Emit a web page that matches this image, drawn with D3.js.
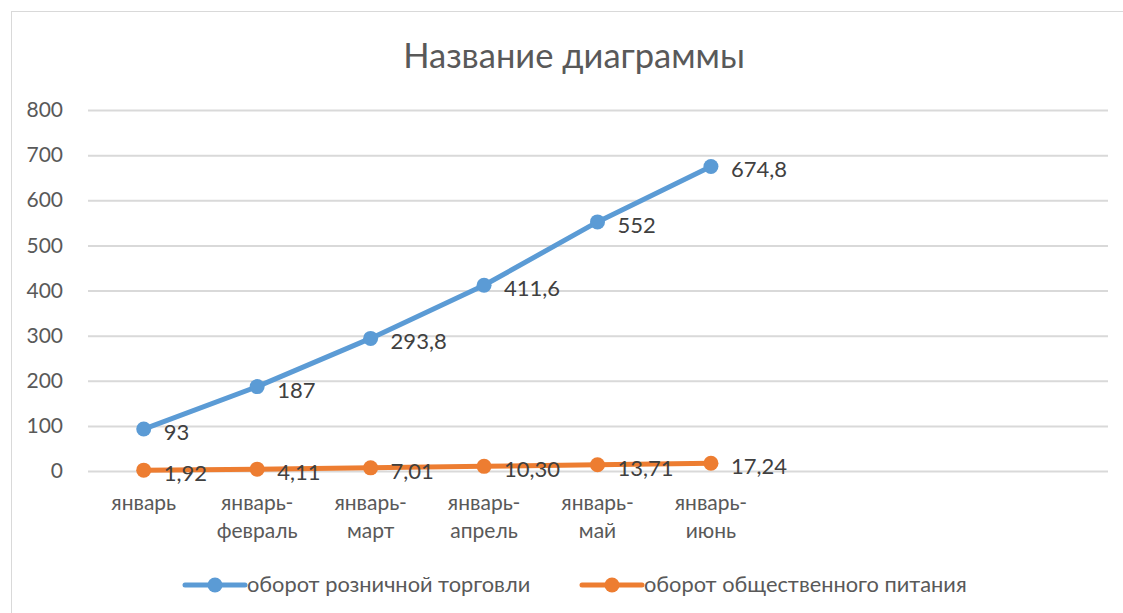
<!DOCTYPE html>
<html>
<head>
<meta charset="utf-8">
<script src="https://cdn.jsdelivr.net/npm/d3@7"></script>
<style>
  body { margin: 0; background: #fff; }
  svg { display: block; font-family: Lato, "Open Sans", sans-serif; }
</style>
</head>
<body>
<svg id="chart" width="1123" height="613"></svg>
<script>
// categories (last three slots are empty in the original)
const categories = ["январь", "январь-февраль", "январь-март", "январь-апрель", "январь-май", "январь-июнь", "", " ", "  "];
const retail = [93, 187, 293.8, 411.6, 552, 674.8];
const catering = [1.92, 4.11, 7.01, 10.30, 13.71, 17.24];
const yTicks = [0, 100, 200, 300, 400, 500, 600, 700, 800];

const series = [
  { name: "оборот розничной торговли", values: retail, color: "#5b9bd5", fmt: d => String(d).replace(".", ",") },
  { name: "оборот общественного питания", values: catering, color: "#ed7d31", fmt: d => d.toFixed(2).replace(".", ",") }
];

const svg = d3.select("#chart");

// outer frame
svg.append("rect")
  .attr("x", 11.5).attr("y", 11.5)
  .attr("width", 1130).attr("height", 620)
  .attr("fill", "#fff")
  .attr("stroke", "#d9d9d9");

let x = d3.scalePoint().domain(categories).range([87, 1108]).padding(0.5);
let y = d3.scaleLinear().domain([0, 800]).range([471, 110]);

// title
svg.append("text")
  .attr("x", 574).attr("y", 68)
  .attr("text-anchor", "middle")
  .attr("font-size", 34.5)
  .attr("fill", "#595959")
  .text("Название диаграммы");

// gridlines + y axis
let yAxis = d3.axisLeft(y).tickValues(yTicks).tickSize(-1020).tickPadding(25);
let gy = svg.append("g").attr("transform", "translate(88,0)").call(yAxis);
gy.select(".domain").remove();
gy.selectAll(".tick line").attr("stroke", "#d9d9d9").attr("stroke-width", 2);
gy.selectAll(".tick text").attr("font-size", 21).attr("fill", "#595959").attr("font-family", "Lato, 'Open Sans', sans-serif");

// x labels
let xl = svg.append("g");
categories.forEach(c => {
  if (!c.trim()) return;
  let parts = c.includes("-") ? [c.slice(0, c.indexOf("-") + 1), c.slice(c.indexOf("-") + 1)] : [c];
  let t = xl.append("text")
    .attr("x", x(c)).attr("y", 510)
    .attr("text-anchor", "middle")
    .attr("font-size", 21)
    .attr("fill", "#595959");
  parts.forEach((p, i) => {
    t.append("tspan").attr("x", x(c)).attr("dy", i ? 28 : 0).text(p);
  });
});

// lines
let line = d3.line().x((d, i) => x(categories[i])).y(d => y(d));
series.forEach(s => {
  let g = svg.append("g");
  g.append("path")
    .datum(s.values)
    .attr("d", line)
    .attr("fill", "none")
    .attr("stroke", s.color)
    .attr("stroke-width", 5)
    .attr("stroke-linejoin", "round")
    .attr("stroke-linecap", "round");
  g.selectAll("circle")
    .data(s.values)
    .join("circle")
    .attr("cx", (d, i) => x(categories[i]))
    .attr("cy", d => y(d))
    .attr("r", 7.5)
    .attr("fill", s.color);
  g.selectAll("text")
    .data(s.values)
    .join("text")
    .attr("x", (d, i) => x(categories[i]) + 20)
    .attr("y", d => y(d) + 11)
    .attr("font-size", 22)
    .attr("fill", "#404040")
    .text(d => s.fmt(d));
});

// legend
let legendX = [185, 582];
series.forEach((s, i) => {
  let g = svg.append("g").attr("transform", `translate(${legendX[i]},585)`);
  g.append("line").attr("x1", 0).attr("x2", 60).attr("y1", 0).attr("y2", 0)
    .attr("stroke", s.color).attr("stroke-width", 5).attr("stroke-linecap", "round");
  g.append("circle").attr("cx", 30).attr("cy", 0).attr("r", 7.5).attr("fill", s.color);
  g.append("text").attr("x", 62).attr("y", 7)
    .attr("font-size", 21.8).attr("fill", "#595959").text(s.name);
});
</script>
</body>
</html>
